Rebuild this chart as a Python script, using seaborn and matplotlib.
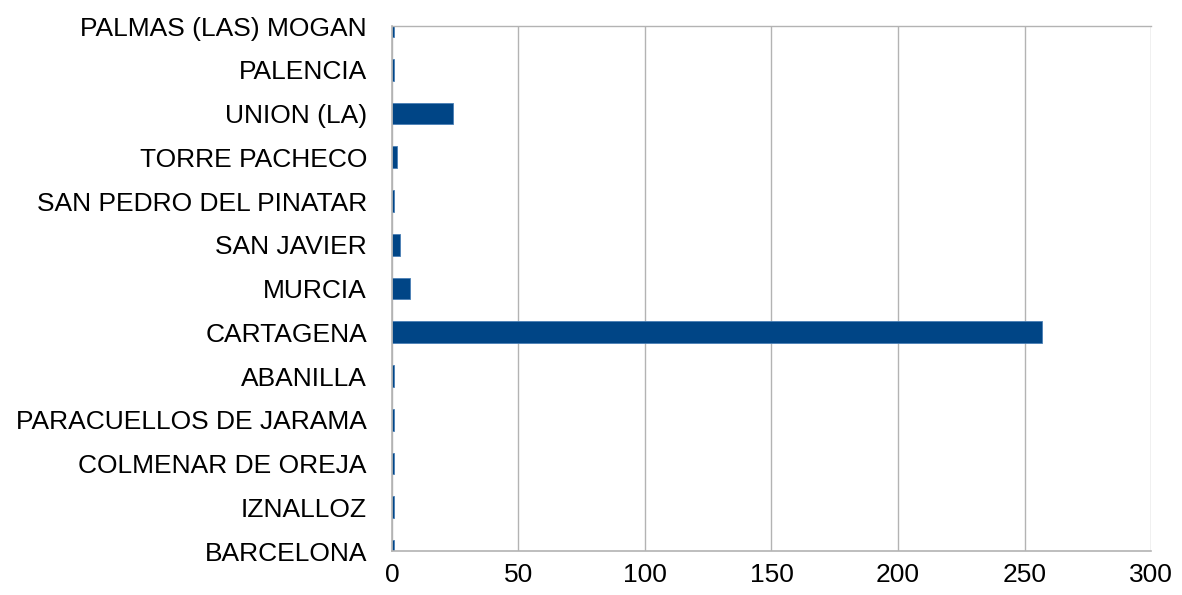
import matplotlib
matplotlib.use("Agg")
import matplotlib.pyplot as plt
import seaborn as sns
import pandas as pd

categories = ["PALMAS (LAS) MOGAN", "PALENCIA", "UNION (LA)", "TORRE PACHECO",
              "SAN PEDRO DEL PINATAR", "SAN JAVIER", "MURCIA", "CARTAGENA",
              "ABANILLA", "PARACUELLOS DE JARAMA", "COLMENAR DE OREJA",
              "IZNALLOZ", "BARCELONA"]
values = [1, 1, 24, 2, 1, 3, 7, 257, 1, 1, 1, 1, 1]
x_ticks = [0, 50, 100, 150, 200, 250, 300]

sns.set_style("white")
plt.rcParams['font.family'] = ['Liberation Sans', 'DejaVu Sans']

df = pd.DataFrame({"city": categories, "value": values})

fig = plt.figure(figsize=(11.82, 5.95), dpi=100)
ax = fig.add_axes([0.3316, 0.0739, 0.9738 - 0.3316, 0.9563 - 0.0739])

sns.barplot(data=df, x="value", y="city", orient="h", color="#004586",
            saturation=1, width=0.5, edgecolor="#4a7fb5", linewidth=0.6, ax=ax)

ax.set_xlim(0, 300)
ax.set_ylim(len(categories) - 1, 0)
ax.set_xticks(x_ticks)
ax.set_xticklabels([str(t) for t in x_ticks])
ax.xaxis.grid(True, color="#b3b3b3", linewidth=1)
ax.yaxis.grid(False)
ax.set_axisbelow(True)
ax.set_xlabel("")
ax.set_ylabel("")

for s in ["left", "bottom"]:
    ax.spines[s].set_color("#b3b3b3")
    ax.spines[s].set_linewidth(1.2)
ax.spines["right"].set_visible(False)
ax.spines["top"].set_color("#b3b3b3")
ax.spines["top"].set_linewidth(1)

ax.tick_params(axis="y", labelsize=19, labelcolor="#000000", color="#b3b3b3",
               length=6.5, width=1, direction="out", pad=11.5)
ax.tick_params(axis="x", labelsize=19, labelcolor="#000000", color="#b3b3b3",
               length=4.5, width=1, direction="out", pad=4)
for b in ax.patches:
    b.set_clip_on(True)

fig.savefig("out.png", dpi=100)
